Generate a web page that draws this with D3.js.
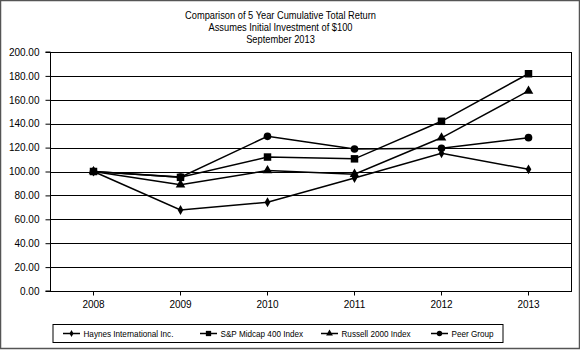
<!DOCTYPE html>
<html><head><meta charset="utf-8">
<script src="https://cdn.jsdelivr.net/npm/d3@7/dist/d3.min.js"></script>
<style>body{margin:0;background:#fff}svg{display:block;font-family:"Liberation Sans",Arial,sans-serif}</style>
</head><body>
<svg id="c" width="580" height="350"></svg>
<script>
const years = ["2008","2009","2010","2011","2012","2013"];
const haynes = [100, 67.8, 74.3, 94.6, 115.2, 101.8];
const spMidcap = [100, 95.1, 112.1, 110.6, 142.0, 181.8];
const russell = [100, 89.0, 100.8, 97.8, 128.2, 167.4];
const peer = [100, 95.3, 129.4, 118.8, 119.4, 128.3];
const seriesNames = ["Haynes International Inc.", "S&P Midcap 400 Index", "Russell 2000 Index", "Peer Group"];
const yTicks = [0,20,40,60,80,100,120,140,160,180,200];
const titleLines = ["Comparison of 5 Year Cumulative Total Return","Assumes Initial Investment of $100","September 2013"];

const svg = d3.select("#c");
svg.append("rect").attr("x",0.5).attr("y",0.5).attr("width",579).attr("height",348).attr("fill","#fff").attr("stroke","#555").attr("stroke-width",1.5);

const L=50,R=572,T=52,B=291;
const x = d3.scaleBand().domain(years).range([L,R]);
const y = d3.scaleLinear().domain([0,200]).range([B,T]);

function condense(sel, f){
  sel.each(function(){ const w=this.getComputedTextLength(); d3.select(this).attr("textLength",w*f).attr("lengthAdjust","spacingAndGlyphs"); });
}

svg.selectAll(".title").data(titleLines).join("text").attr("class","title")
  .attr("x",280.5).attr("y",(d,i)=>19+i*12).attr("text-anchor","middle")
  .attr("font-size",10.8).attr("fill","#000").text(d=>d)
  .call(condense,0.86);

// gridlines
svg.append("g").selectAll("line").data(yTicks.filter(t=>t>0)).join("line")
  .attr("x1",L).attr("x2",R).attr("y1",d=>Math.round(y(d))+0.5).attr("y2",d=>Math.round(y(d))+0.5)
  .attr("stroke","#000").attr("stroke-width",1);
svg.append("rect").attr("x",L+0.5).attr("y",T+0.5).attr("width",R-L-1).attr("height",B-T).attr("fill","none").attr("stroke","#000");

const yAxis = d3.axisLeft(y).tickValues(yTicks).tickFormat(d3.format(".2f")).tickSize(5).tickPadding(6);
const gy = svg.append("g").attr("transform",`translate(${L+0.5},0)`).call(yAxis);
gy.selectAll("text").attr("font-size",10).attr("fill","#000").attr("font-family","Liberation Sans, Arial, sans-serif");
gy.selectAll("line,path").attr("stroke","#000");
gy.select(".domain").attr("d",`M-5,${y(200)}H0V${y(0)}H-5`);

const xAxis = d3.axisBottom(x).tickSize(4).tickPadding(5);
const gx = svg.append("g").attr("transform",`translate(0,${B+0.5})`).call(xAxis);
gx.select(".domain").remove();
gx.selectAll("text").attr("font-size",10).attr("fill","#000").attr("font-family","Liberation Sans, Arial, sans-serif");
gx.selectAll("line").attr("stroke","#000");

const cx = d=>x(d)+x.bandwidth()/2;
const data = [haynes, spMidcap, russell, peer];
const symbols = [d3.symbolDiamond, d3.symbolSquare, d3.symbolTriangle, d3.symbolCircle];
const sizes = [28, 56, 40, 46];
const line = d3.line().x((d,i)=>cx(years[i])).y(d=>y(d));
data.forEach(vals=>{
  svg.append("path").attr("d",line(vals)).attr("fill","none").attr("stroke","#000").attr("stroke-width",1.5);
});
[0,2,3,1].forEach(k=>{
  svg.append("g").selectAll("path").data(data[k]).join("path")
    .attr("transform",(d,i)=>`translate(${cx(years[i])},${y(d)})`)
    .attr("d",d3.symbol().type(symbols[k]).size(sizes[k])).attr("fill","#000");
});

// legend
svg.append("rect").attr("x",53).attr("y",324.5).attr("width",450).attr("height",18).attr("fill","none").attr("stroke","#000");
const legX = [63, 200, 321, 431];
seriesNames.forEach((n,k)=>{
  const g = svg.append("g").attr("transform",`translate(${legX[k]},333.5)`);
  g.append("line").attr("x1",0).attr("x2",17).attr("stroke","#000").attr("stroke-width",1.5);
  g.append("path").attr("transform","translate(8.5,0)").attr("d",d3.symbol().type(symbols[k]).size(sizes[k]*0.5)).attr("fill","#000");
  g.append("text").attr("x",20.5).attr("y",3.5).attr("font-size",9.8).attr("fill","#000").text(n).call(condense,0.83);
});
</script>
</body></html>
